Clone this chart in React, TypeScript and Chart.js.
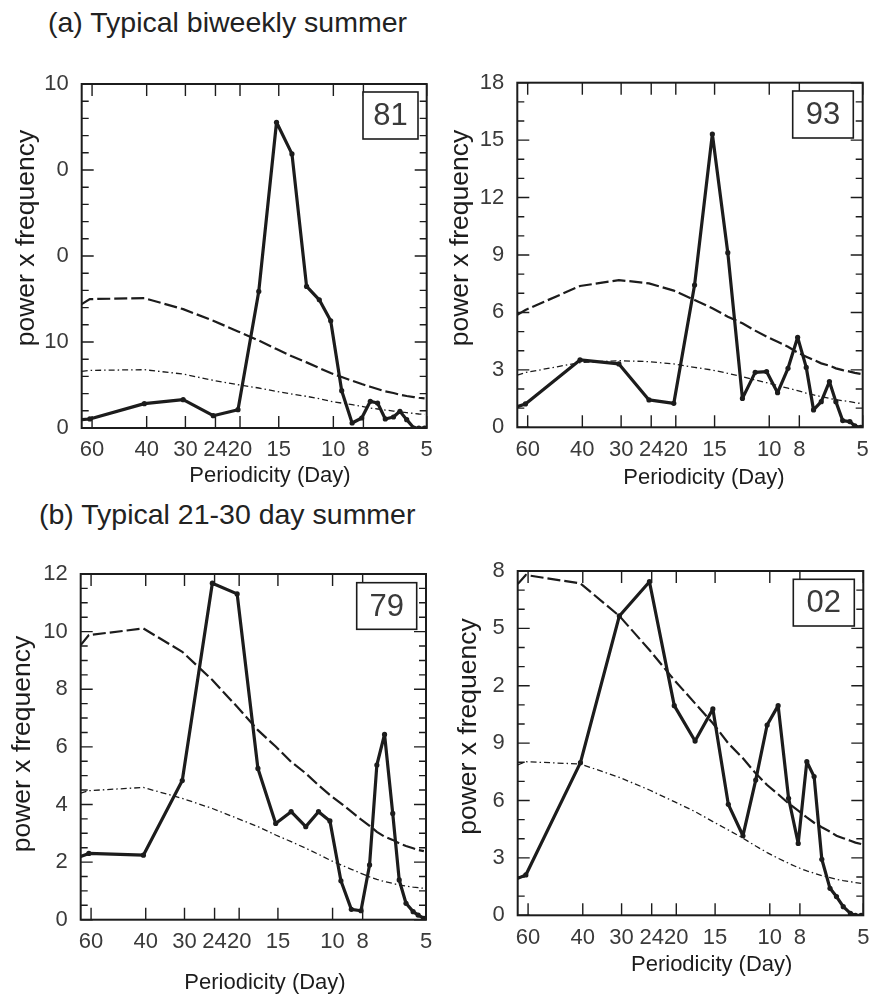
import React, { useEffect, useRef } from 'react';
import { Chart, registerables } from 'chart.js';

Chart.register(...registerables);

// Periodicity (days) of each spectral estimate; first entry is the left edge of the axis
const PERIODS = [64.8, 61, 40.7, 30.5, 24.4, 20.3, 17.4, 15.25, 13.6, 12.2, 11.1, 10.2, 9.4, 8.7, 8.1, 7.6, 7.2, 6.8, 6.4, 6.1, 5.8, 5.5, 5.3, 5.08];
const X_TICKS = [60, 40, 30, 24, 20, 15, 10, 8, 5];
const X_MIN = 5;
const X_MAX = 64.8;

// Panel "81"
const SPEC_81 = [0.97, 1.05, 2.83, 3.29, 1.43, 2.13, 15.88, 35.55, 31.87, 16.46, 14.91, 12.47, 4.34, 0.58, 1.16, 3.1, 2.9, 1.05, 1.28, 1.94, 0.97, 0, 0, 0];
const UPPER_81 = [14.4, 14.99, 15.1, 13.82, 12.47, 11.23, 10.18, 9.18, 8.33, 7.63, 6.97, 6.39, 5.92, 5.5, 5.11, 4.8, 4.53, 4.26, 4.07, 3.87, 3.72, 3.6, 3.52, 3.45];
const LOWER_81 = [6.58, 6.7, 6.78, 6.27, 5.54, 5.03, 4.65, 4.26, 3.95, 3.68, 3.41, 3.1, 2.9, 2.71, 2.52, 2.32, 2.21, 2.09, 1.97, 1.86, 1.78, 1.7, 1.63, 1.59];
const Y_LABELS_81: Record<number, string> = { 0: '0', 10: '10', 20: '0', 30: '0', 40: '10' };

// Panel "93"
const SPEC_93 = [1.08, 1.22, 3.52, 3.31, 1.43, 1.25, 7.43, 15.32, 9.12, 1.51, 2.87, 2.91, 1.81, 3.08, 4.7, 3.13, 0.91, 1.34, 2.39, 1.34, 0.35, 0.3, 0.07, 0];
const UPPER_93 = [5.87, 6.13, 7.38, 7.69, 7.52, 7.14, 6.65, 6.22, 5.78, 5.43, 5.05, 4.74, 4.47, 4.21, 3.9, 3.69, 3.52, 3.34, 3.22, 3.08, 2.99, 2.91, 2.84, 2.79];
const LOWER_93 = [2.73, 2.86, 3.38, 3.48, 3.43, 3.31, 3.13, 2.99, 2.82, 2.65, 2.47, 2.33, 2.18, 2.04, 1.92, 1.78, 1.69, 1.6, 1.51, 1.44, 1.39, 1.34, 1.29, 1.25];
const Y_LABELS_93: Record<number, string> = { 0: '0', 3: '3', 6: '6', 9: '9', 12: '12', 15: '15', 18: '18' };

// Panel "79"
const SPEC_79 = [2.19, 2.3, 2.24, 4.83, 11.68, 11.31, 5.25, 3.34, 3.75, 3.23, 3.75, 3.43, 1.35, 0.36, 0.31, 1.9, 5.37, 6.43, 3.69, 1.38, 0.57, 0.28, 0.16, 0.05];
const UPPER_79 = [9.53, 9.88, 10.11, 9.3, 8.32, 7.39, 6.58, 6.01, 5.48, 5.08, 4.67, 4.33, 4.04, 3.75, 3.48, 3.26, 3.05, 2.88, 2.77, 2.65, 2.56, 2.48, 2.42, 2.38];
const LOWER_79 = [4.39, 4.48, 4.59, 4.21, 3.86, 3.52, 3.23, 2.94, 2.71, 2.48, 2.27, 2.07, 1.9, 1.75, 1.61, 1.49, 1.4, 1.32, 1.26, 1.2, 1.17, 1.13, 1.11, 1.09];
const Y_LABELS_79: Record<number, string> = { 0: '0', 2: '2', 4: '4', 6: '6', 8: '8', 10: '10', 12: '12' };

// Panel "02"
const SPEC_02 = [1.93, 2.11, 7.98, 15.65, 17.44, 10.96, 9.11, 10.79, 5.8, 4.16, 7.07, 9.95, 10.96, 6.12, 3.76, 8.03, 7.25, 2.93, 1.41, 0.98, 0.45, 0.1, 0, 0];
const UPPER_02 = [17.32, 17.79, 17.35, 15.65, 13.87, 12.3, 11.08, 10.04, 8.99, 8.21, 7.42, 6.81, 6.33, 5.85, 5.47, 5.12, 4.84, 4.6, 4.37, 4.16, 4.03, 3.9, 3.8, 3.73];
const LOWER_02 = [7.86, 8.03, 7.91, 7.21, 6.55, 5.94, 5.42, 4.9, 4.46, 4.03, 3.62, 3.28, 2.98, 2.72, 2.49, 2.32, 2.2, 2.07, 1.97, 1.88, 1.81, 1.76, 1.71, 1.67];
const Y_LABELS_02: Record<number, string> = { 0: '0', 3: '3', 6: '6', 9: '9', 12: '2', 15: '5', 18: '8' };

const FONT = "'Liberation Sans', Arial, Helvetica, sans-serif";
const INK = '#1c1c1c';
const TEXT = '#3a3a3a';

type PanelCfg = {
  tag: string;
  spec: number[];
  upper: number[];
  lower: number[];
  yMax: number;
  yStep: number;
  yLabels: Record<number, string>;
  left: number; top: number; width: number; height: number;
  area: { l: number; r: number; t: number; b: number };
  xTitle: { x: number; y: number };
  yTitle: { x: number; y: number };
  box: { w: number; h: number; dx: number; dy: number };
};

const PANELS: PanelCfg[] = [
  {
    tag: '81', spec: SPEC_81, upper: UPPER_81, lower: LOWER_81, yMax: 40, yStep: 2, yLabels: Y_LABELS_81,
    left: 0, top: 50, width: 435, height: 445,
    area: { l: 81.7, r: 426.7, t: 34, b: 378 },
    xTitle: { x: 270, y: 426 }, yTitle: { x: 27, y: 188 },
    box: { w: 55, h: 47, dx: 8.7, dy: 8 },
  },
  {
    tag: '93', spec: SPEC_93, upper: UPPER_93, lower: LOWER_93, yMax: 18, yStep: 1, yLabels: Y_LABELS_93,
    left: 435, top: 50, width: 435, height: 445,
    area: { l: 82.3, r: 427.7, t: 32.7, b: 377.3 },
    xTitle: { x: 269, y: 428 }, yTitle: { x: 26, y: 188 },
    box: { w: 60.6, h: 47, dx: 9.4, dy: 8.3 },
  },
  {
    tag: '79', spec: SPEC_79, upper: UPPER_79, lower: LOWER_79, yMax: 12, yStep: 0.5, yLabels: Y_LABELS_79,
    left: 0, top: 540, width: 435, height: 456,
    area: { l: 80.7, r: 426, t: 34, b: 379.7 },
    xTitle: { x: 265, y: 443 }, yTitle: { x: 22.5, y: 204 },
    box: { w: 60, h: 46.6, dx: 9.3, dy: 8.7 },
  },
  {
    tag: '02', spec: SPEC_02, upper: UPPER_02, lower: LOWER_02, yMax: 18, yStep: 1, yLabels: Y_LABELS_02,
    left: 435, top: 540, width: 435, height: 456,
    area: { l: 82.7, r: 428.3, t: 31, b: 375.3 },
    xTitle: { x: 276.7, y: 425 }, yTitle: { x: 34, y: 186.5 },
    box: { w: 61, h: 46.7, dx: 9, dy: 8.3 },
  },
];

function isMajor(cfg: PanelCfg, v: number) {
  const r = Math.round(v * 1000) / 1000;
  return Object.prototype.hasOwnProperty.call(cfg.yLabels, r);
}

function makeFramePlugin(cfg: PanelCfg) {
  return {
    id: 'frame' + cfg.tag,
    afterDraw(chart: any) {
      const { ctx, chartArea: a, scales } = chart;
      const xs = scales.x;
      const ys = scales.y;
      ctx.save();
      ctx.strokeStyle = INK;
      // tick marks pointing inwards on all four sides
      ctx.lineWidth = 1.4;
      ctx.beginPath();
      X_TICKS.forEach((v) => {
        const px = xs.getPixelForValue(v);
        ctx.moveTo(px, a.bottom);
        ctx.lineTo(px, a.bottom - 12);
        ctx.moveTo(px, a.top);
        ctx.lineTo(px, a.top + 12);
      });
      ys.ticks.forEach((t: any) => {
        const py = ys.getPixelForValue(t.value);
        const len = isMajor(cfg, t.value) ? 12 : 7;
        ctx.moveTo(a.left, py);
        ctx.lineTo(a.left + len, py);
        ctx.moveTo(a.right, py);
        ctx.lineTo(a.right - len, py);
      });
      ctx.stroke();
      // frame
      ctx.lineWidth = 2;
      ctx.strokeRect(a.left, a.top, a.right - a.left, a.bottom - a.top);
      // year box
      const bx = a.right - cfg.box.dx - cfg.box.w;
      const by = a.top + cfg.box.dy;
      ctx.fillStyle = '#ffffff';
      ctx.fillRect(bx, by, cfg.box.w, cfg.box.h);
      ctx.lineWidth = 1.6;
      ctx.strokeRect(bx, by, cfg.box.w, cfg.box.h);
      ctx.fillStyle = TEXT;
      ctx.font = `31px ${FONT}`;
      ctx.textAlign = 'center';
      ctx.textBaseline = 'middle';
      ctx.fillText(cfg.tag, bx + cfg.box.w / 2, by + cfg.box.h / 2 + 1);
      // axis titles
      ctx.fillStyle = INK;
      ctx.font = `22px ${FONT}`;
      ctx.fillText('Periodicity (Day)', cfg.xTitle.x, cfg.xTitle.y);
      ctx.translate(cfg.yTitle.x, cfg.yTitle.y);
      ctx.rotate(-Math.PI / 2);
      ctx.font = `26.5px ${FONT}`;
      ctx.fillText('power x frequency', 0, 0);
      ctx.restore();
    },
  };
}

function Panel({ cfg }: { cfg: PanelCfg }) {
  const ref = useRef<HTMLCanvasElement | null>(null);
  useEffect(() => {
    if (!ref.current) return;
    const pts = (vals: number[]) => PERIODS.map((p, i) => ({ x: p, y: vals[i] }));
    const chart = new Chart(ref.current, {
      type: 'line',
      data: {
        datasets: [
          {
            data: pts(cfg.spec),
            borderColor: INK,
            backgroundColor: INK,
            borderWidth: 3.2,
            borderJoinStyle: 'round',
            borderCapStyle: 'round',
            pointRadius: (c: any) => (c.dataIndex === 0 ? 0 : 2.6),
            pointBorderWidth: 0,
            pointBackgroundColor: INK,
            tension: 0,
          },
          {
            data: pts(cfg.upper),
            borderColor: INK,
            borderWidth: 2.2,
            borderDash: [13, 4],
            pointRadius: 0,
            tension: 0,
          },
          {
            data: pts(cfg.lower),
            borderColor: INK,
            borderWidth: 1.3,
            borderDash: [6, 3, 1.5, 3],
            pointRadius: 0,
            tension: 0,
          },
        ],
      },
      options: {
        animation: false,
        responsive: false,
        maintainAspectRatio: false,
        devicePixelRatio: 1,
        events: [],
        layout: {
          padding: { left: 0, top: cfg.area.t, right: cfg.width - cfg.area.r, bottom: 0 },
        },
        plugins: { legend: { display: false }, tooltip: { enabled: false }, title: { display: false } },
        scales: {
          x: {
            type: 'logarithmic',
            reverse: true,
            min: X_MIN,
            max: X_MAX,
            afterBuildTicks: (s: any) => {
              s.ticks = X_TICKS.map((v) => ({ value: v }));
            },
            afterFit: (s: any) => {
              s.height = cfg.height - cfg.area.b;
              s.paddingLeft = 0;
              s.paddingRight = 0;
            },
            grid: { display: false, drawTicks: false },
            border: { display: false },
            ticks: {
              autoSkip: false,
              maxRotation: 0,
              minRotation: 0,
              padding: 9,
              color: TEXT,
              font: { family: FONT, size: 22 },
              callback: (v: any) => String(v),
            },
          },
          y: {
            type: 'linear',
            min: 0,
            max: cfg.yMax,
            afterBuildTicks: (s: any) => {
              const arr: { value: number }[] = [];
              const n = Math.round(cfg.yMax / cfg.yStep);
              for (let i = 0; i <= n; i++) arr.push({ value: Math.round(i * cfg.yStep * 1000) / 1000 });
              s.ticks = arr;
            },
            afterFit: (s: any) => {
              s.width = cfg.area.l;
              s.paddingTop = 0;
              s.paddingBottom = 0;
            },
            grid: { display: false, drawTicks: false },
            border: { display: false },
            ticks: {
              autoSkip: false,
              padding: 13,
              color: TEXT,
              font: { family: FONT, size: 22 },
              callback: (v: any) => {
                const r = Math.round(Number(v) * 1000) / 1000;
                return Object.prototype.hasOwnProperty.call(cfg.yLabels, r) ? cfg.yLabels[r] : '';
              },
            },
          },
        },
      },
      plugins: [makeFramePlugin(cfg)],
    } as any);
    return () => chart.destroy();
  }, [cfg]);
  return (
    <canvas
      ref={ref}
      width={cfg.width}
      height={cfg.height}
      style={{ position: 'absolute', left: cfg.left, top: cfg.top, width: cfg.width, height: cfg.height }}
    />
  );
}

export default function App() {
  const titleStyle: React.CSSProperties = {
    position: 'absolute',
    fontFamily: FONT,
    fontSize: 28.5,
    lineHeight: '28px',
    color: '#222',
    whiteSpace: 'nowrap',
  };
  return (
    <div style={{ position: 'absolute', left: 0, top: 0, width: 870, height: 996, background: '#fff', overflow: 'hidden' }}>
      <div style={{ ...titleStyle, left: 48, top: 8 }}>(a) Typical biweekly summer</div>
      <div style={{ ...titleStyle, left: 39, top: 500 }}>(b) Typical 21-30 day summer</div>
      {PANELS.map((p) => (
        <Panel key={p.tag} cfg={p} />
      ))}
    </div>
  );
}
